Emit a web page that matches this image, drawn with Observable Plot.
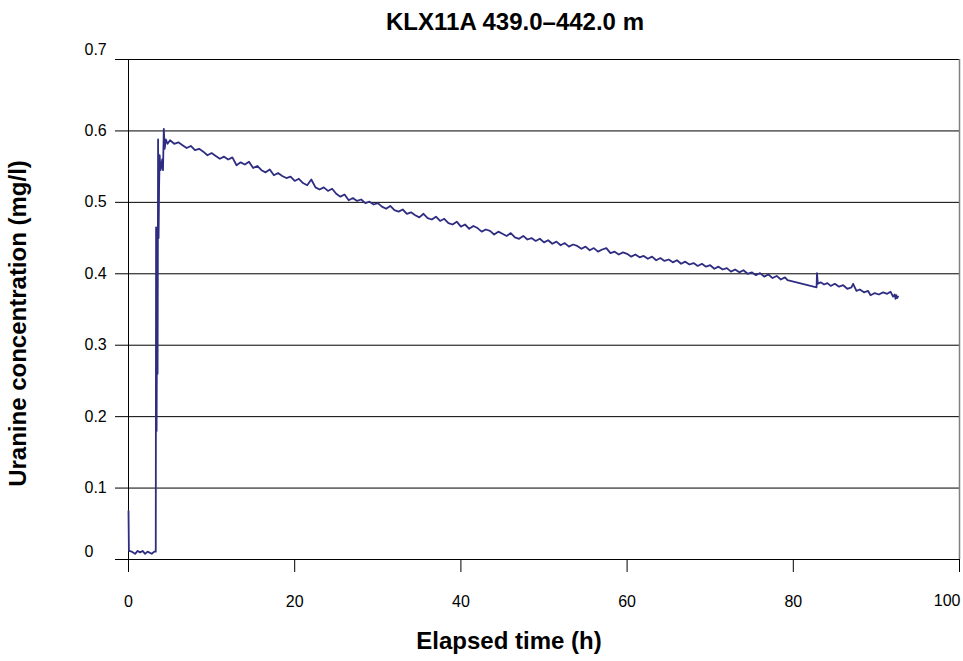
<!DOCTYPE html>
<html>
<head>
<meta charset="utf-8">
<script src="https://cdn.jsdelivr.net/npm/d3@7"></script>
<script src="https://cdn.jsdelivr.net/npm/@observablehq/plot@0.6"></script>
<style>
  html, body { margin: 0; padding: 0; background: #fff; }
  #wrap { width: 963px; height: 661px; position: relative; overflow: hidden; }
  #title { box-sizing: border-box; width: 963px; height: 40px; line-height: 44px; padding-left: 67px;
           text-align: center; font-family: "Liberation Sans", Arial, sans-serif; font-weight: bold; font-size: 24px; color: #000; }
  svg { display: block; }
</style>
</head>
<body>
<div id="wrap">
  <div id="title"></div>
</div>
<script>
const titleText = "KLX11A 439.0–442.0 m";
const xLabel = "Elapsed time (h)";
const yLabel = "Uranine concentration (mg/l)";
const xTicks = [0, 20, 40, 60, 80, 100];
const yTicks = [0, 0.1, 0.2, 0.3, 0.4, 0.5, 0.6, 0.7];
const yTickLabels = ["0", "0.1", "0.2", "0.3", "0.4", "0.5", "0.6", "0.7"];

// Elapsed time (h)
const time = [
  0, 0.05, 0.4, 0.8, 1.1, 1.4, 1.7, 2.0, 2.3, 2.8, 3.1, 3.28,
  3.32, 3.38, 3.44, 3.50, 3.56, 3.62, 3.68, 3.75, 3.85, 3.95, 4.05, 4.15, 4.25, 4.35, 4.5, 4.7,
  5.0, 5.5, 6.0, 6.5, 7.0, 7.5, 8.0, 8.5, 9.0, 9.5,
  10.0, 10.5, 11.0, 11.5, 12.0, 12.5, 13.0, 13.5, 14.0, 14.5,
  15.0, 15.5, 16.0, 16.5, 17.0, 17.5, 18.0, 18.5, 19.0, 19.5,
  20.0, 20.5, 21.0, 21.5, 22.0, 22.5, 23.0, 23.5, 24.0, 24.5,
  25.0, 25.5, 26.0, 26.5, 27.0, 27.5, 28.0, 28.5, 29.0, 29.5,
  30.0, 30.5, 31.0, 31.5, 32.0, 32.5, 33.0, 33.5, 34.0, 34.5,
  35.0, 35.5, 36.0, 36.5, 37.0, 37.5, 38.0, 38.5, 39.0, 39.5,
  40.0, 40.5, 41.0, 41.5, 42.0, 42.5, 43.0, 43.5, 44.0, 44.5,
  45.0, 45.5, 46.0, 46.5, 47.0, 47.5, 48.0, 48.5, 49.0, 49.5,
  50.0, 50.5, 51.0, 51.5, 52.0, 52.5, 53.0, 53.5, 54.0, 54.5,
  55.0, 55.5, 56.0, 56.5, 57.0, 57.5, 58.0, 58.5, 59.0, 59.5,
  60.0, 60.5, 61.0, 61.5, 62.0, 62.5, 63.0, 63.5, 64.0, 64.5,
  65.0, 65.5, 66.0, 66.5, 67.0, 67.5, 68.0, 68.5, 69.0, 69.5,
  70.0, 70.5, 71.0, 71.5, 72.0, 72.5, 73.0, 73.5, 74.0, 74.5,
  75.0, 75.5, 76.0, 76.5, 77.0, 77.5, 78.0, 78.5, 79.0, 79.3,
  82.8, 82.85, 82.95, 83.3, 83.7, 84.1, 84.5, 85.0, 85.5, 86.0,
  86.5, 87.0, 87.2, 87.6, 88.0, 88.5, 89.0, 89.3, 89.8, 90.3,
  90.8, 91.3, 91.7, 92.0, 92.2, 92.3, 92.4, 92.5, 92.6
];

// Uranine concentration (mg/l)
const conc = [
  0.068, 0.012, 0.011, 0.008, 0.012, 0.010, 0.012, 0.008, 0.011, 0.008, 0.011, 0.011,
  0.465, 0.180, 0.370, 0.260, 0.588, 0.450, 0.520, 0.566, 0.545, 0.550, 0.560, 0.545, 0.603, 0.575, 0.588, 0.582,
  0.587, 0.582, 0.584, 0.580, 0.576, 0.579, 0.573, 0.575, 0.571, 0.566,
  0.569, 0.565, 0.561, 0.564, 0.560, 0.563, 0.552, 0.556, 0.553, 0.557,
  0.548, 0.551, 0.545, 0.542, 0.546, 0.538, 0.541, 0.537, 0.534, 0.536,
  0.530, 0.533, 0.527, 0.524, 0.532, 0.521, 0.518, 0.521, 0.516, 0.519,
  0.512, 0.508, 0.511, 0.503, 0.506, 0.502, 0.504, 0.499, 0.501, 0.497,
  0.499, 0.494, 0.491, 0.495, 0.489, 0.487, 0.490, 0.484, 0.486, 0.482,
  0.479, 0.484, 0.478, 0.476, 0.480, 0.474, 0.477, 0.471, 0.469, 0.473,
  0.466, 0.469, 0.463, 0.467, 0.464, 0.459, 0.462, 0.460, 0.455, 0.459,
  0.456, 0.453, 0.457, 0.451, 0.449, 0.453, 0.448, 0.450, 0.446, 0.449,
  0.444, 0.447, 0.442, 0.445, 0.440, 0.443, 0.438, 0.441, 0.439, 0.435,
  0.438, 0.433, 0.436, 0.431, 0.434, 0.436, 0.429, 0.431, 0.427, 0.430,
  0.428, 0.424, 0.427, 0.423, 0.425, 0.421, 0.424, 0.419, 0.422, 0.418,
  0.420, 0.416, 0.419, 0.414, 0.417, 0.413, 0.415, 0.411, 0.414, 0.410,
  0.412, 0.407, 0.410, 0.406, 0.408, 0.403, 0.406, 0.402, 0.405, 0.400,
  0.402, 0.398, 0.401, 0.396, 0.399, 0.394, 0.397, 0.392, 0.395, 0.391,
  0.381, 0.401, 0.386, 0.388, 0.385, 0.387, 0.383, 0.386, 0.382, 0.384,
  0.379, 0.381, 0.386, 0.376, 0.378, 0.374, 0.376, 0.370, 0.373, 0.371,
  0.374, 0.372, 0.375, 0.368, 0.371, 0.365, 0.370, 0.366, 0.368
];

document.getElementById("title").textContent = titleText;

const data = time.map((t, i) => ({t, c: conc[i]}));
const font = "Liberation Sans, Arial, sans-serif";
const lineColor = "#2e2d82";

const chart = Plot.plot({
  width: 963,
  height: 621,
  marginLeft: 128,
  marginRight: 4,
  marginTop: 19,
  marginBottom: 102,
  style: {fontFamily: font, fontSize: "16px", color: "#000", background: "#fff", overflow: "visible"},
  x: {domain: [0, 100], label: null},
  y: {domain: [0, 0.7], label: null},
  marks: [
    Plot.ruleY(yTicks, {stroke: "#000", strokeWidth: 1}),
    Plot.ruleX([100], {stroke: "#808080", strokeWidth: 1.5}),
    Plot.ruleX([0], {stroke: "#000", strokeWidth: 1}),
    Plot.axisY(yTicks, {tickSize: 13, tickFormat: () => "", stroke: "#000", label: null}),
    Plot.text(yTicks.slice(1, -1), {y: d => d, text: d => yTickLabels[yTicks.indexOf(d)], frameAnchor: "left", textAnchor: "start", dx: -44, fontSize: 16}),
    Plot.text([yTicks[yTicks.length - 1]], {y: d => d, text: () => yTickLabels[yTickLabels.length - 1], frameAnchor: "left", textAnchor: "start", dx: -44, dy: -10, fontSize: 16}),
    Plot.text([yTicks[0]], {y: d => d, text: () => yTickLabels[0], frameAnchor: "left", textAnchor: "start", dx: -44, dy: -8, fontSize: 16}),
    Plot.axisX(xTicks, {tickSize: 13, tickPadding: 23, fontSize: 16, stroke: "#000", label: null, tickFormat: d => d === 100 ? "" : String(d)}),
    Plot.text([xTicks[xTicks.length - 1]], {x: d => d, text: d => String(d), frameAnchor: "bottom", textAnchor: "end", dx: 1, dy: 46, fontSize: 16}),
    Plot.line(data, {x: "t", y: "c", stroke: lineColor, strokeWidth: 1.8}),
    Plot.text([xLabel], {text: d => d, frameAnchor: "bottom", textAnchor: "middle", dx: -35, dy: 89, fontSize: 24, fontWeight: "bold"}),
    Plot.text([yLabel], {text: d => d, frameAnchor: "left", textAnchor: "middle", dx: -110, dy: 14, rotate: -90, fontSize: 24, fontWeight: "bold"})
  ]
});
document.getElementById("wrap").appendChild(chart);
</script>
</body>
</html>
